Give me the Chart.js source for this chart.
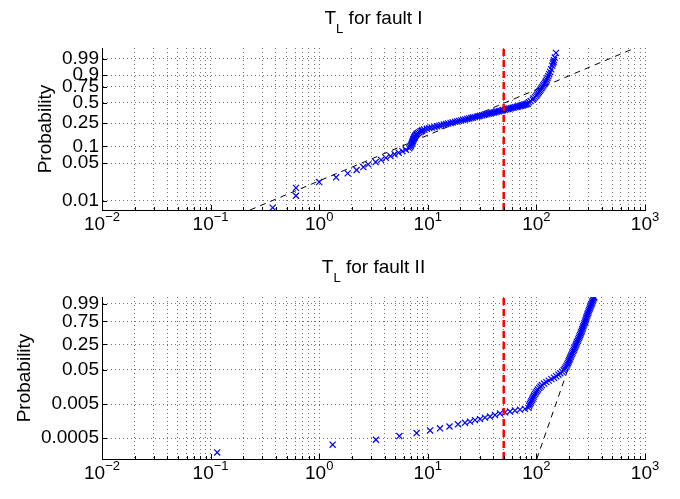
<!DOCTYPE html>
<html>
<head>
<meta charset="utf-8">
<script src="https://cdn.jsdelivr.net/npm/chart.js@4.4.0/dist/chart.umd.min.js"></script>
<style>
  html, body { margin: 0; padding: 0; background: #fff; }
  .panel { position: absolute; left: 0; width: 680px; }
</style>
</head>
<body>
<div class="panel" style="top:0;height:250px"><canvas id="faultI" width="680" height="250"></canvas></div>
<div class="panel" style="top:250px;height:249px"><canvas id="faultII" width="680" height="249"></canvas></div>
<script>
// Weibull probability plots of T_L (log time axis, Weibull probability axis)

const xMajor = [0.01, 0.1, 1, 10, 100, 1000];
const xExpLabels = ["\u22122", "\u22121", "0", "1", "2", "3"];
const xMinorSteps = [2, 3, 4, 5, 6, 7, 8, 9];
const threshold = 50; // red dashed marker

// fault I
const topYTicks = [0.01, 0.05, 0.1, 0.25, 0.5, 0.75, 0.9, 0.99];
const topYLabels = ["0.01", "0.05", "0.1", "0.25", "0.5", "0.75", "0.9", "0.99"];
const topYLimits = [0.00678, 0.99938];
const topTimes = [
  0.373, 0.611, 0.611, 1.0, 1.43, 1.83, 2.21, 2.55, 2.83, 3.31,
  3.71, 4.11, 4.53, 4.95, 5.39, 5.83, 6.28, 6.75, 6.90, 6.96,
  7.03, 7.12, 7.18, 7.24, 7.30, 7.37, 7.43, 7.48, 7.56, 7.65,
  7.75, 7.85, 7.95, 8.13, 8.39, 8.65, 8.81, 8.92, 9.23, 9.79,
  10.32, 10.86, 11.53, 12.16, 12.79, 13.34, 14.04, 14.77, 15.41, 16.21,
  16.96, 17.84, 18.62, 19.42, 20.30, 21.18, 22.10, 23.11, 24.11, 25.15,
  26.02, 27.14, 28.38, 29.37, 30.38, 31.69, 32.78, 33.91, 35.38, 36.69,
  37.95, 39.26, 40.61, 42.02, 43.46, 45.06, 46.62, 48.22, 49.46, 51.17,
  52.94, 54.76, 56.17, 58.11, 60.12, 61.66, 63.93, 66.13, 67.83, 70.17,
  72.0, 73.8, 75.9, 77.6, 79.4, 81.1,
  83.0, 85.5, 88.6, 92.5, 94.2, 97.1, 99.6, 101.5, 103.7, 105.4,
  107.3, 109.3, 111.4, 113.3, 115.7, 118.0, 120.3, 122.1, 124.4, 126.6,
  128.7, 131.2, 133.7, 136.9, 140.1, 141.9, 143.6, 145.2, 147.7, 151.5
];
const topProbs = [
  0.0075, 0.0125, 0.0175, 0.0225, 0.0275, 0.0325, 0.0375, 0.0425, 0.0475, 0.0525,
  0.0575, 0.0625, 0.0675, 0.0725, 0.0775, 0.0825, 0.0875, 0.0925, 0.0975, 0.1025,
  0.1075, 0.1125, 0.1175, 0.1225, 0.1275, 0.1325, 0.1375, 0.1425, 0.1475, 0.1525,
  0.1575, 0.1625, 0.1675, 0.1725, 0.1775, 0.1825, 0.1875, 0.1925, 0.1975, 0.2025,
  0.2075, 0.2125, 0.2175, 0.2225, 0.2275, 0.2325, 0.2375, 0.2425, 0.2475, 0.2525,
  0.2575, 0.2625, 0.2675, 0.2725, 0.2775, 0.2825, 0.2875, 0.2925, 0.2975, 0.3025,
  0.3075, 0.3125, 0.3175, 0.3225, 0.3275, 0.3325, 0.3375, 0.3425, 0.3475, 0.3525,
  0.3575, 0.3625, 0.3675, 0.3725, 0.3775, 0.3825, 0.3875, 0.3925, 0.3975, 0.4025,
  0.4075, 0.4125, 0.4175, 0.4225, 0.4275, 0.4325, 0.4375, 0.4425, 0.4475, 0.4525,
  0.4575, 0.4625, 0.4675, 0.4725, 0.4775, 0.4825,
  0.4875, 0.5075, 0.5275, 0.5475, 0.5675, 0.5875, 0.6075, 0.6275, 0.6475, 0.6675,
  0.6875, 0.7075, 0.7275, 0.7475, 0.7675, 0.7875, 0.8075, 0.8275, 0.8475, 0.8675,
  0.8875, 0.9075, 0.9275, 0.9475, 0.9675, 0.9775, 0.9825, 0.9875, 0.9925, 0.9975
];
const topFitTimes = [0.2307, 809];
const topFitProbs = [0.00678, 0.99938];

// fault II
const botYTicks = [0.0005, 0.005, 0.05, 0.25, 0.75, 0.99];
const botYLabels = ["0.0005", "0.005", "0.05", "0.25", "0.75", "0.99"];
const botYLimits = [0.000121, 0.99926];
const botTimes = [
  0.115, 1.33, 3.33, 5.47, 7.89, 10.5, 12.95, 15.84, 18.97, 22.0,
  24.47, 27.2, 30.25, 33.63, 37.39, 41.57, 46.21, 51.39, 57.13, 63.52,
  70.63, 78.52, 84.58,
  85.6, 87.1, 88.4, 89.7, 91.3, 92.7, 94.2, 95.6, 97.3, 99.1,
  101.1, 103.2, 106.3, 109.3, 112.4, 117.7, 123.4, 129.8, 137.4, 145.2,
  152.2, 159.5, 166.0, 172.8, 178.4, 182.2, 185.8, 188.9, 192.6, 195.4,
  197.9, 200.9, 203.4, 206.5, 209.1, 212.3, 215.0, 218.3, 221.1, 224.4,
  227.3, 230.7, 233.6, 236.6, 240.2, 243.2, 246.3, 249.5, 252.7, 255.9,
  259.2, 262.6, 265.4, 268.2, 271.1, 274.0, 277.5, 280.4, 283.4, 286.4,
  289.5, 293.1, 296.2, 299.4, 302.5, 305.8, 309.7, 313.6, 317.6, 321.7,
  325.8, 330.0, 334.2, 337.8, 341.0
];
const botProbs = [
  0.000189, 0.000319, 0.000447, 0.000574, 0.000703, 0.000838, 0.000972, 0.001098, 0.001274, 0.001409,
  0.001529, 0.001692, 0.001811, 0.002003, 0.002157, 0.002389, 0.002661, 0.002866, 0.003025, 0.003238,
  0.003442, 0.003633, 0.003887,
  0.004507, 0.00498, 0.005502, 0.006078, 0.006715, 0.007419, 0.008196, 0.009054, 0.010002, 0.011048,
  0.012202, 0.013477, 0.014884, 0.016437, 0.018149, 0.020039, 0.022123, 0.024421, 0.026954, 0.029746,
  0.032822, 0.036211, 0.039942, 0.044049, 0.048568, 0.053536, 0.058998, 0.065, 0.071582, 0.078806,
  0.08672, 0.095393, 0.10487, 0.115254, 0.126576, 0.138921, 0.152362, 0.166965, 0.1828, 0.19998,
  0.2185, 0.2385, 0.26, 0.2831, 0.3078, 0.3341, 0.3619, 0.3914, 0.4224, 0.4548,
  0.4885, 0.5233, 0.559, 0.5954, 0.6321, 0.6688, 0.7052, 0.7407, 0.7751, 0.8077,
  0.8383, 0.8665, 0.892, 0.9145, 0.934, 0.9504, 0.9639, 0.9745, 0.9827, 0.9887,
  0.99295, 0.9958, 0.99764, 0.99875, 0.9992
];
const botFitTimes = [100.7, 333];
const botFitProbs = [0.000121, 0.99926];

const FONT = '"Liberation Sans", Arial, Helvetica, sans-serif';
Chart.defaults.font.family = FONT;
Chart.defaults.color = "#000";

// Weibull probability scale: ln(-ln(1-p))
const wbl = (p) => Math.log(-Math.log(1 - p));

const toPoints = (xs, ps) => xs.map((x, i) => ({ x: x, y: wbl(ps[i]) }));

// MATLAB-like decorations: inward ticks, 10^n labels and subscript title
const matlabDecor = {
  id: "matlabDecor",
  afterDraw(chart, args, opts) {
    const { ctx, chartArea: a, scales } = chart;
    const xs = scales.x, ys = scales.y;
    ctx.save();

    ctx.strokeStyle = "#000";
    ctx.lineWidth = 1;
    ctx.beginPath();
    xs.ticks.forEach((t) => {
      const px = Math.round(xs.getPixelForValue(t.value)) + 0.5;
      const len = t.major ? 5 : 3;
      ctx.moveTo(px, a.bottom);
      ctx.lineTo(px, a.bottom - len);
    });
    ys.ticks.forEach((t) => {
      const py = Math.round(ys.getPixelForValue(t.value)) + 0.5;
      ctx.moveTo(a.left, py);
      ctx.lineTo(a.left + 5, py);
    });
    ctx.stroke();

    // x tick labels as 10 with a superscript exponent
    ctx.fillStyle = "#000";
    ctx.textBaseline = "alphabetic";
    ctx.textAlign = "left";
    xMajor.forEach((v, i) => {
      const px = xs.getPixelForValue(v);
      ctx.font = "19px " + FONT;
      const wb = ctx.measureText("10").width;
      ctx.font = "13px " + FONT;
      const we = ctx.measureText(xExpLabels[i]).width;
      const start = px - (wb + we) / 2;
      ctx.font = "19px " + FONT;
      ctx.fillText("10", start, a.bottom + 20);
      ctx.font = "13px " + FONT;
      ctx.fillText(xExpLabels[i], start + wb, a.bottom + 11);
    });

    // title T_L for fault ...
    const base = a.top - 24;
    ctx.font = "19px " + FONT;
    const wT = ctx.measureText("T").width;
    const wRest = ctx.measureText(opts.rest).width;
    ctx.font = "13px " + FONT;
    const wL = ctx.measureText("L").width;
    let tx = (a.left + a.right) / 2 - (wT + wL + wRest) / 2;
    ctx.font = "19px " + FONT;
    ctx.fillText("T", tx, base);
    tx += wT;
    ctx.font = "13px " + FONT;
    ctx.fillText("L", tx, base + 9);
    tx += wL;
    ctx.font = "19px " + FONT;
    ctx.fillText(opts.rest, tx, base);

    ctx.restore();
  },
};

function makePlot(id, p) {
  const yMin = wbl(p.yLimits[0]);
  const yMax = wbl(p.yLimits[1]);
  return new Chart(document.getElementById(id), {
    type: "scatter",
    data: {
      datasets: [
        {
          data: [{ x: threshold, y: yMin }, { x: threshold, y: yMax }],
          showLine: true,
          borderColor: "#ff0000",
          borderWidth: 2.5,
          borderDash: [7, 4],
          pointRadius: 0,
        },
        {
          data: toPoints(p.times, p.probs),
          pointStyle: "crossRot",
          pointRadius: 4.3,
          pointBorderWidth: 1.2,
          borderColor: "#0000ff",
          backgroundColor: "#0000ff",
        },
        {
          data: toPoints(p.fitTimes, p.fitProbs),
          showLine: true,
          borderColor: "#000",
          borderWidth: 1,
          borderDash: [6, 5],
          pointRadius: 0,
        },
      ],
    },
    options: {
      responsive: false,
      devicePixelRatio: 1,
      animation: false,
      events: [],
      layout: { padding: { left: 0, top: p.top, right: 35, bottom: 0 } },
      plugins: {
        legend: { display: false },
        tooltip: { enabled: false },
        matlabDecor: { rest: p.rest },
      },
      scales: {
        x: {
          type: "logarithmic",
          min: xMajor[0],
          max: xMajor[xMajor.length - 1],
          afterBuildTicks: (scale) => {
            const ticks = [];
            xMajor.forEach((v, i) => {
              ticks.push({ value: v, major: true });
              if (i < xMajor.length - 1) {
                xMinorSteps.forEach((m) => ticks.push({ value: v * m, major: false }));
              }
            });
            scale.ticks = ticks;
          },
          afterFit: (scale) => { scale.height = 40; },
          ticks: { display: false },
          grid: { color: "rgba(0,0,0,0.55)", lineWidth: 1, drawTicks: false },
          border: { display: true, color: "#000", width: 1, dash: [1, 3] },
        },
        y: {
          type: "linear",
          min: yMin,
          max: yMax,
          afterBuildTicks: (scale) => {
            scale.ticks = p.yTicks.map((v) => ({ value: wbl(v) }));
          },
          afterFit: (scale) => { scale.width = 102; },
          ticks: {
            autoSkip: false,
            padding: 3,
            font: { size: 19 },
            color: "#000",
            callback: (v, i) => p.yLabels[i],
          },
          title: {
            display: true,
            text: "Probability",
            font: { size: 19 },
            color: "#000",
            padding: { top: p.labelPad, bottom: 0 },
          },
          grid: { color: "rgba(0,0,0,0.55)", lineWidth: 1, drawTicks: false },
          border: { display: true, color: "#000", width: 1, dash: [1, 3] },
        },
      },
    },
    plugins: [matlabDecor],
  });
}

makePlot("faultI", {
  times: topTimes, probs: topProbs,
  fitTimes: topFitTimes, fitProbs: topFitProbs,
  yTicks: topYTicks, yLabels: topYLabels, yLimits: topYLimits,
  top: 48, labelPad: 34, rest: " for fault I",
});

makePlot("faultII", {
  times: botTimes, probs: botProbs,
  fitTimes: botFitTimes, fitProbs: botFitProbs,
  yTicks: botYTicks, yLabels: botYLabels, yLimits: botYLimits,
  top: 47, labelPad: 13, rest: " for fault II",
});
</script>
</body>
</html>
